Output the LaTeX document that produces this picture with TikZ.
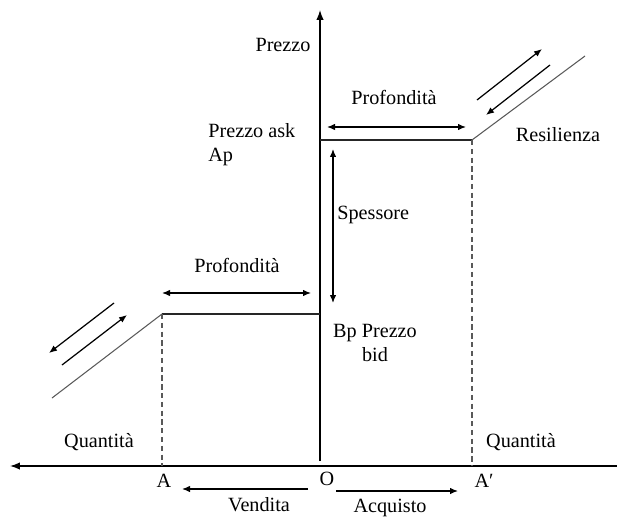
\documentclass[tikz,border=0pt]{standalone}
\usepackage{fontspec}
\setmainfont{Liberation Serif}
\usetikzlibrary{arrows.meta, positioning}
\tikzset{
	asse/.style={
		line width=0.8pt,
		black
	},
	livello/.style={
		line width=0.7pt,
		black!85
	},
	pendenza/.style={
		line width=0.6pt,
		black!65
	},
	tratteggio/.style={
		line width=0.6pt,
		dashed,
		dash pattern=on 3pt off 2pt,
		black!65
	},
	freccia/.style={
		-{Latex[length=1.6mm, width=1.3mm]},
		line width=0.7pt
	},
	frecciaDoppia/.style={
		{Latex[length=1.6mm, width=1.3mm]}-{Latex[length=1.6mm, width=1.3mm]},
		line width=0.7pt
	},
	etichetta/.style={
		font=\fontsize{11.5}{13.5}\selectfont,
		inner sep=0pt
	}
}
\begin{document}
\begin{tikzpicture}[x=0.02cm, y=-0.02cm]
		\useasboundingbox (0,0) rectangle (617,516);
		\clip (0,0) rectangle (617,516);
		% assi
		\coordinate (origine) at (320,466);
		\coordinate (baseY) at (320,461);
		\coordinate (cimaY) at (320,10);
		\coordinate (fineSx) at (10,466);
		\coordinate (fineDx) at (627,466);
		\draw[asse, -{Latex[length=2mm, width=1.5mm]}] (baseY) -- (cimaY);
		\draw[asse, {Latex[length=2mm, width=1.5mm]}-{Latex[length=2mm, width=1.5mm]}] (fineSx) -- (fineDx);
		% livelli di prezzo
		\coordinate (askO) at (320,140);
		\coordinate (askA) at (472,140);
		\coordinate (askR) at (585,56);
		\coordinate (bidO) at (320,314);
		\coordinate (bidA) at (162,314);
		\coordinate (bidR) at (52,398);
		\coordinate (Aprimo) at (472,466);
		\coordinate (Asx) at (162,466);
		\draw[livello] (askO) -- (askA);
		\draw[pendenza] (askA) -- (askR);
		\draw[livello] (bidO) -- (bidA);
		\draw[pendenza] (bidA) -- (bidR);
		\draw[tratteggio] (askA) -- (Aprimo);
		\draw[tratteggio] (bidA) -- (Asx);
		% profondita
		\coordinate (profAs) at (327,127);
		\coordinate (profAd) at (466,127);
		\coordinate (profBs) at (162,293);
		\coordinate (profBd) at (311,293);
		\draw[frecciaDoppia] (profAs) -- (profAd);
		\draw[frecciaDoppia] (profBs) -- (profBd);
		\node[etichetta] (profondA) at (394,97) {Profondità};
		\node[etichetta] (profondB) at (237,265) {Profondità};
		% spessore
		\coordinate (spessSu) at (333,149);
		\coordinate (spessGiu) at (333,303);
		\draw[frecciaDoppia] (spessGiu) -- (spessSu);
		\node[etichetta, anchor=west] (spessore) at (337,215) {Spessore};
		% resilienza
		\coordinate (resA1) at (477,100);
		\coordinate (resA2) at (542,49);
		\coordinate (resB1) at (550,65);
		\coordinate (resB2) at (486,115);
		\draw[freccia] (resA1) -- (resA2);
		\draw[freccia] (resB1) -- (resB2);
		\coordinate (resC1) at (114,303);
		\coordinate (resC2) at (49,353);
		\coordinate (resD1) at (62,365);
		\coordinate (resD2) at (127,315);
		\draw[freccia] (resC1) -- (resC2);
		\draw[freccia] (resD1) -- (resD2);
		\node[etichetta] (resilienza) at (558,135) {Resilienza};
		% etichette
		\node[etichetta] (prezzo) at (283,45) {Prezzo};
		\node[etichetta, anchor=west, align=left] (ask) at (208,145) {Prezzo ask\\Ap};
		\node[etichetta, align=center] (bid) at (375,343) {Bp Prezzo\\bid};
		\node[etichetta] (quantSx) at (99,442) {Quantità};
		\node[etichetta] (quantDx) at (521,442) {Quantità};
		\node[etichetta] (puntoA) at (164,481) {A};
		\node[etichetta] (puntoO) at (327,479) {O};
		\node[etichetta] (puntoAp) at (484,481) {A′};
		% vendita e acquisto
		\coordinate (vendInizio) at (308,489);
		\coordinate (vendFine) at (182,489);
		\coordinate (acqInizio) at (336,491);
		\coordinate (acqFine) at (458,491);
		\draw[freccia] (vendInizio) -- (vendFine);
		\draw[freccia] (acqInizio) -- (acqFine);
		\node[etichetta] (vendita) at (259,505) {Vendita};
		\node[etichetta] (acquisto) at (390,508) {Acquisto};
	\end{tikzpicture}
\end{document}
